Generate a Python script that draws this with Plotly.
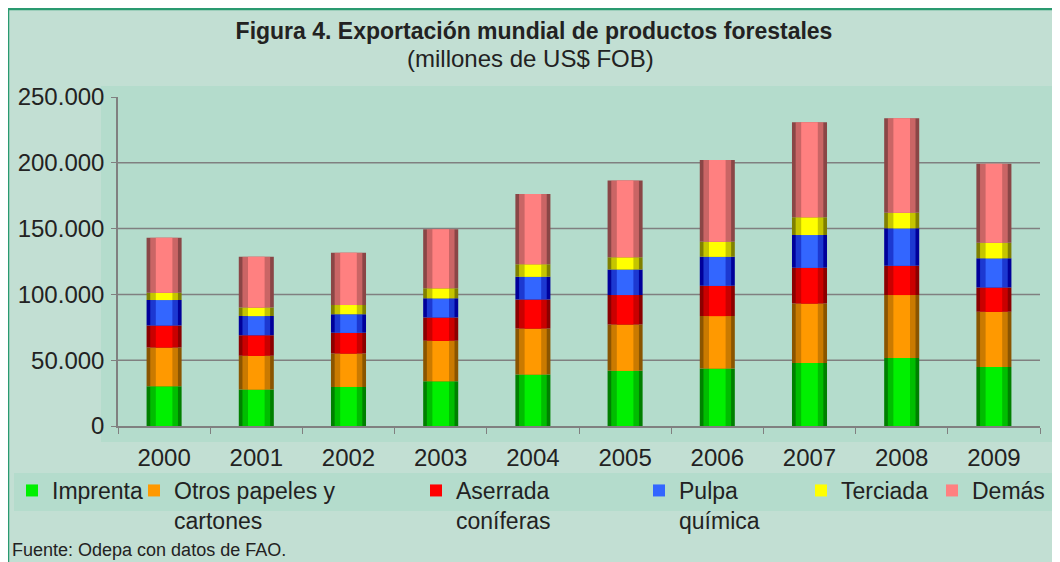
import numpy as np
import plotly.graph_objects as go

# Valores (millones de US$ FOB)
years = ["2000", "2001", "2002", "2003", "2004", "2005", "2006", "2007", "2008", "2009"]
imprenta = [30.2, 27.7, 29.7, 34.0, 39.1, 41.9, 43.7, 47.9, 51.7, 44.9]
otros_papeles = [29.5, 25.6, 25.4, 30.7, 35.0, 35.3, 39.8, 45.2, 47.8, 41.9]
aserrada = [16.7, 15.7, 15.7, 17.8, 22.1, 22.3, 23.0, 27.1, 22.3, 18.5]
pulpa = [19.3, 14.5, 14.2, 14.5, 17.2, 19.5, 22.1, 24.9, 28.4, 22.1]
terciada = [5.5, 6.6, 6.9, 7.6, 9.6, 9.2, 11.4, 13.5, 11.9, 11.9]
demas = [41.9, 38.5, 39.8, 44.9, 53.3, 58.3, 62.2, 72.3, 71.8, 59.9]

series_names = ["Imprenta", "Otros papeles y<br>cartones", "Aserrada<br>coníferas",
                "Pulpa<br>química", "Terciada", "Demás"]
series_values = [imprenta, otros_papeles, aserrada, pulpa, terciada, demas]

y_tickvals = [0, 50000, 100000, 150000, 200000, 250000]
y_ticktext = ["0", "50.000", "100.000", "150.000", "200.000", "250.000"]

# colores (claro, oscuro) para el efecto cilindro
bright = ["#00f000", "#ff9900", "#ff0000", "#3366ff", "#ffff00", "#ff8080"]
dark = ["#008000", "#8a5500", "#8b0000", "#00009a", "#808000", "#8a4646"]

# la página pone el gráfico 8 px adentro; las coordenadas de abajo son de pantalla
OFF = 8
W, H = 1052, 554
L, R, T, B = 110, 20, 89, 136
PW, PH = W - L - R, H - T - B


def px_x(p):
    return (p - OFF - L) / PW


def px_y(p):
    return (H - B - (p - OFF)) / PH


FONT = "Liberation Sans, Arial, sans-serif"

fig = go.Figure()

base = np.zeros(len(years))
for i, (name, vals) in enumerate(zip(series_names, series_values)):
    v = np.array(vals) * 1000
    leg = "legend" if i == 0 else f"legend{i + 1}"
    for width, color, show in [(0.38, dark[i], False), (0.3, bright[i], False), (0.18, bright[i], True)]:
        fig.add_trace(go.Bar(
            x=years, y=v, base=base, width=width, name=name,
            marker=dict(color=color, line=dict(width=0)),
            opacity=1.0 if width != 0.3 else 0.55,
            showlegend=show, legend=leg, hoverinfo="skip" if not show else None,
        ))
    base = base + v

# posiciones de las entradas de la leyenda (px del texto)
legend_text_x = [52, 174, 456, 679, 841, 972]
for i, tx in enumerate(legend_text_x):
    key = "legend" if i == 0 else f"legend{i + 1}"
    fig.update_layout({key: dict(
        x=px_x(tx - 40), y=px_y(469), xanchor="left", yanchor="top",
        bgcolor="rgba(0,0,0,0)", borderwidth=0, valign="top",
        font=dict(family=FONT, size=23, color="#222"),
        itemclick=False, itemdoubleclick=False,
    )})

fig.update_layout(
    width=W, height=H,
    margin=dict(l=L, r=R, t=T, b=B, autoexpand=False),
    barmode="overlay",
    paper_bgcolor="white",
    plot_bgcolor="rgba(0,0,0,0)",
    font=dict(family=FONT, size=24, color="#222"),
    title=dict(
        text="<b>Figura 4. Exportación mundial de productos forestales</b>",
        x=0.5, xanchor="center", y=1 - 23 / H, yanchor="middle",
        font=dict(family=FONT, size=23, color="#222"),
    ),
    xaxis=dict(
        type="category", showgrid=False, showline=True, linecolor="#808080", linewidth=1.5,
        ticks="outside", ticklen=6, tickcolor="#808080", tickson="boundaries",
        tickfont=dict(size=24), ticklabelstandoff=9,
        range=[-0.5, len(years) - 0.5],
    ),
    yaxis=dict(
        range=[0, 250000], tickvals=y_tickvals, ticktext=y_ticktext,
        showgrid=False, zeroline=False, showline=True, linecolor="#808080", linewidth=1.5,
        ticks="outside", ticklen=5, tickcolor="#808080",
        tickfont=dict(size=24), ticklabelstandoff=2,
    ),
    showlegend=True,
)

shapes = [
    # marco del gráfico
    dict(type="rect", xref="paper", yref="paper", layer="below",
         x0=px_x(8), x1=px_x(1080), y0=px_y(600), y1=px_y(9),
         fillcolor="#c2dfd3", line=dict(color="#2a9a70", width=2.5)),
    # área de trazado
    dict(type="rect", xref="paper", yref="paper", layer="below",
         x0=px_x(101), x1=px_x(1052), y0=px_y(442), y1=px_y(86),
         fillcolor="#b4dccc", line=dict(width=0)),
    # banda de la leyenda
    dict(type="rect", xref="paper", yref="paper", layer="below",
         x0=px_x(14), x1=px_x(1052), y0=px_y(511), y1=px_y(473),
         fillcolor="#b4dccc", line=dict(width=0)),
]
# líneas de división
for v in y_tickvals[1:-1]:
    shapes.append(dict(type="line", xref="paper", yref="y", layer="below",
                       x0=0, x1=1, y0=v, y1=v, line=dict(color="#808080", width=1.5)))
fig.update_layout(shapes=shapes)

fig.add_annotation(
    text="(millones de US$ FOB)", xref="paper", yref="paper",
    x=px_x(530), y=px_y(58), xanchor="center", yanchor="middle", showarrow=False,
    font=dict(family=FONT, size=24, color="#222"),
)
fig.add_annotation(
    text="Fuente: Odepa con datos de FAO.", xref="paper", yref="paper",
    x=px_x(10), y=px_y(550), xanchor="left", yanchor="middle", showarrow=False,
    font=dict(family=FONT, size=18, color="#222"),
)

fig.write_html("out.html")
